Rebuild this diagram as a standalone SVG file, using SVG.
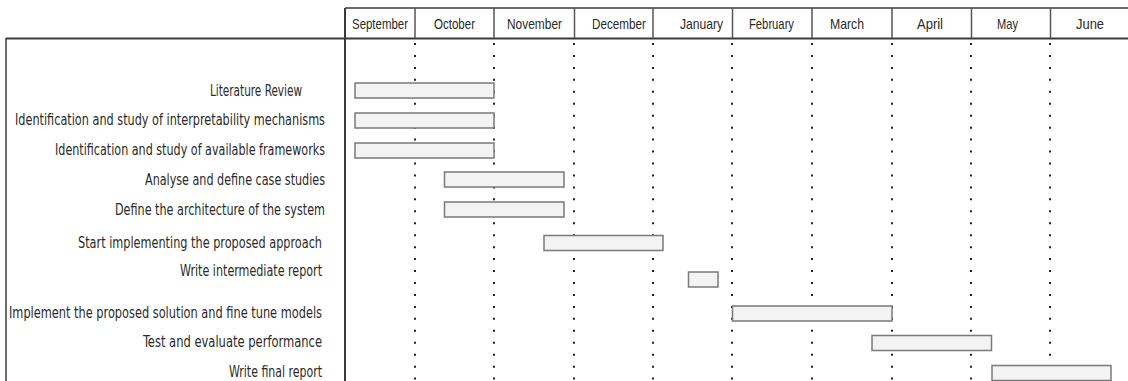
<svg xmlns="http://www.w3.org/2000/svg" width="1128" height="381" viewBox="0 0 1128 381">
  <style>
    .frame { stroke: #3a3a3a; stroke-width: 1.5; fill: none; }
    .rule { stroke: #3a3a3a; stroke-width: 2; fill: none; }
    .div { stroke: #555; stroke-width: 1.5; fill: none; }
    .dots { stroke: #222; stroke-width: 2; stroke-dasharray: 2 9.95; fill: none; }
    .bar { fill: #f3f3f3; stroke: #7a7a7a; stroke-width: 1.5; }
    .month { font-family: "Liberation Sans Narrow", "Liberation Sans", Arial, sans-serif; font-size: 15px; fill: #2a2a2a; text-anchor: middle; }
    .label { font-family: "DejaVu Sans Condensed", "DejaVu Sans", "Liberation Sans", sans-serif; font-size: 15px; fill: #2a2a2a; text-anchor: end; }
  </style>

  <rect x="0" y="0" width="1128" height="381" fill="#ffffff"/>

  <!-- timeline header -->
  <g id="header">
    <line class="frame" x1="345" y1="8" x2="1128" y2="8"/>
    <line class="rule" x1="6" y1="38.5" x2="1128" y2="38.5"/>
    <line class="div" x1="415" y1="8" x2="415" y2="38"/>
    <line class="div" x1="494" y1="8" x2="494" y2="38"/>
    <line class="div" x1="574.5" y1="8" x2="574.5" y2="38"/>
    <line class="div" x1="653" y1="8" x2="653" y2="38"/>
    <line class="div" x1="732.5" y1="8" x2="732.5" y2="38"/>
    <line class="div" x1="812" y1="8" x2="812" y2="38"/>
    <line class="div" x1="892" y1="8" x2="892" y2="38"/>
    <line class="div" x1="971.5" y1="8" x2="971.5" y2="38"/>
    <line class="div" x1="1050.5" y1="8" x2="1050.5" y2="38"/>
    <text class="month" x="380" y="29" textLength="56" lengthAdjust="spacingAndGlyphs">September</text>
    <text class="month" x="454.5" y="29" textLength="41" lengthAdjust="spacingAndGlyphs">October</text>
    <text class="month" x="534.5" y="29" textLength="55" lengthAdjust="spacingAndGlyphs">November</text>
    <text class="month" x="619" y="29" textLength="54" lengthAdjust="spacingAndGlyphs">December</text>
    <text class="month" x="701.5" y="29" textLength="43" lengthAdjust="spacingAndGlyphs">January</text>
    <text class="month" x="771.5" y="29" textLength="45" lengthAdjust="spacingAndGlyphs">February</text>
    <text class="month" x="847" y="29" textLength="34" lengthAdjust="spacingAndGlyphs">March</text>
    <text class="month" x="930" y="29" textLength="26" lengthAdjust="spacingAndGlyphs">April</text>
    <text class="month" x="1007.5" y="29" textLength="21" lengthAdjust="spacingAndGlyphs">May</text>
    <text class="month" x="1090" y="29" textLength="28" lengthAdjust="spacingAndGlyphs">June</text>
  </g>

  <!-- outer frame and month boundaries -->
  <g id="grid">
    <line class="frame" x1="6" y1="38" x2="6" y2="381"/>
    <line class="rule" x1="345" y1="8" x2="345" y2="381"/>
    <line class="dots" x1="415" y1="43" x2="415" y2="381"/>
    <line class="dots" x1="494" y1="43" x2="494" y2="381"/>
    <line class="dots" x1="574" y1="43" x2="574" y2="381"/>
    <line class="dots" x1="653" y1="43" x2="653" y2="381"/>
    <line class="dots" x1="732" y1="43" x2="732" y2="381"/>
    <line class="dots" x1="812" y1="43" x2="812" y2="381"/>
    <line class="dots" x1="892" y1="43" x2="892" y2="381"/>
    <line class="dots" x1="971" y1="43" x2="971" y2="381"/>
    <line class="dots" x1="1050" y1="43" x2="1050" y2="381"/>
  </g>

  <!-- tasks -->
  <g id="task-literature-review">
    <text class="label" x="302" y="96" textLength="92" lengthAdjust="spacingAndGlyphs">Literature Review</text>
    <rect class="bar" x="355" y="83" width="139" height="15"/>
  </g>
  <g id="task-interpretability">
    <text class="label" x="325" y="125" textLength="310" lengthAdjust="spacingAndGlyphs">Identification and study of interpretability mechanisms</text>
    <rect class="bar" x="355" y="113" width="139" height="15"/>
  </g>
  <g id="task-frameworks">
    <text class="label" x="325" y="155" textLength="270" lengthAdjust="spacingAndGlyphs">Identification and study of available frameworks</text>
    <rect class="bar" x="355" y="143" width="139" height="15"/>
  </g>
  <g id="task-case-studies">
    <text class="label" x="325" y="185" textLength="180" lengthAdjust="spacingAndGlyphs">Analyse and define case studies</text>
    <rect class="bar" x="444.5" y="172" width="119.5" height="15"/>
  </g>
  <g id="task-architecture">
    <text class="label" x="325" y="215" textLength="210" lengthAdjust="spacingAndGlyphs">Define the architecture of the system</text>
    <rect class="bar" x="444.5" y="202" width="119.5" height="15"/>
  </g>
  <g id="task-start-implementing">
    <text class="label" x="322" y="248" textLength="244" lengthAdjust="spacingAndGlyphs">Start implementing the proposed approach</text>
    <rect class="bar" x="544" y="235.5" width="119" height="15"/>
  </g>
  <g id="task-intermediate-report">
    <text class="label" x="322" y="276" textLength="142" lengthAdjust="spacingAndGlyphs">Write intermediate report</text>
    <rect class="bar" x="688.5" y="272" width="29.5" height="15"/>
  </g>
  <g id="task-implement-solution">
    <text class="label" x="322" y="318" textLength="313" lengthAdjust="spacingAndGlyphs">Implement the proposed solution and fine tune models</text>
    <rect class="bar" x="732.5" y="306" width="159.5" height="15"/>
  </g>
  <g id="task-test-evaluate">
    <text class="label" x="322" y="347" textLength="179" lengthAdjust="spacingAndGlyphs">Test and evaluate performance</text>
    <rect class="bar" x="872" y="335.5" width="119.5" height="15"/>
  </g>
  <g id="task-final-report">
    <text class="label" x="322" y="377" textLength="93" lengthAdjust="spacingAndGlyphs">Write final report</text>
    <rect class="bar" x="992" y="365.5" width="119" height="15"/>
  </g>

  <!-- no connectors in this chart -->
  <g id="connectors"/>
</svg>
